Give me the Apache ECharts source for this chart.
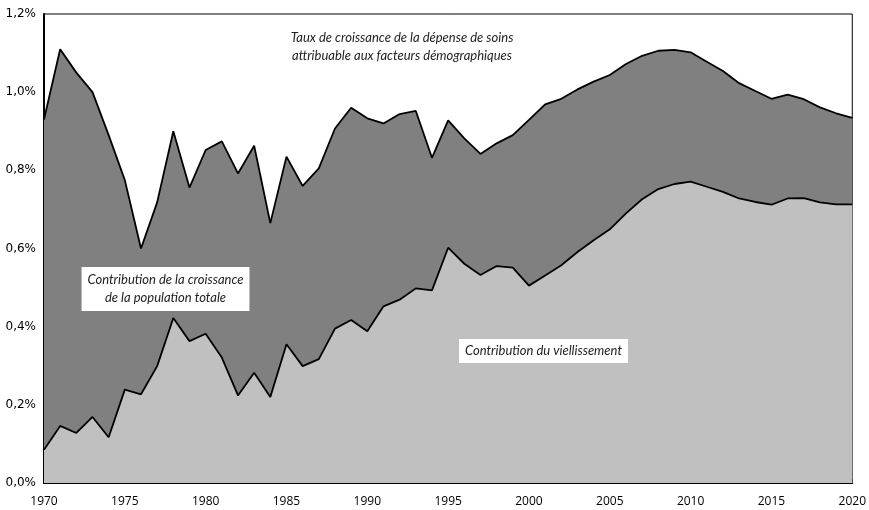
<!DOCTYPE html>
<html lang="fr">
<head>
    <meta charset="UTF-8">
    <title>Facteurs démographiques</title>
    <script src="https://cdn.jsdelivr.net/npm/echarts@6/dist/echarts.min.js"></script>
    <style>
        html, body { margin: 0; padding: 0; background: #fff; }
    </style>
</head>
<body>
<div id="main" style="width: 869px;height: 510px;"></div>
<script type="text/javascript">
    // années 1970 -> 2020
    var years = [];
    for (var y = 1970; y <= 2020; y++) years.push(String(y));

    // taux total attribuable aux facteurs démographiques (%)
    var totalDemo = [
        0.93, 1.11, 1.05, 1.00, 0.89, 0.775, 0.60, 0.718, 0.90, 0.756,
        0.852, 0.874, 0.792, 0.863, 0.665, 0.835, 0.760, 0.805, 0.907, 0.960,
        0.933, 0.920, 0.944, 0.952, 0.832, 0.928, 0.882, 0.842, 0.869, 0.890,
        0.929, 0.969, 0.983, 1.007, 1.027, 1.044, 1.072, 1.093, 1.106, 1.108,
        1.102, 1.078, 1.054, 1.023, 1.003, 0.983, 0.994, 0.982, 0.961, 0.946,
        0.934
    ];

    // contribution du vieillissement (%)
    var vieillissement = [
        0.085, 0.146, 0.128, 0.169, 0.117, 0.239, 0.227, 0.299, 0.422, 0.363,
        0.382, 0.321, 0.224, 0.282, 0.220, 0.355, 0.299, 0.317, 0.395, 0.417,
        0.388, 0.452, 0.469, 0.498, 0.493, 0.602, 0.561, 0.532, 0.555, 0.551,
        0.505, 0.531, 0.557, 0.591, 0.621, 0.649, 0.690, 0.726, 0.752, 0.765,
        0.771, 0.758, 0.745, 0.728, 0.719, 0.712, 0.728, 0.729, 0.718, 0.713,
        0.713
    ];

    var labelFont = 'italic 13px Lato, "Open Sans", sans-serif';

    var myChart = echarts.init(document.getElementById('main'));
    var option = {
        backgroundColor: '#fff',
        animation: false,
        grid: {
            left: 44,
            right: 16,
            top: 14,
            bottom: 27,
            show: true,
            borderColor: '#000',
            borderWidth: 1
        },
        xAxis: {
            type: 'category',
            data: years,
            boundaryGap: false,
            axisLine: { lineStyle: { color: '#000', width: 2 } },
            axisTick: {
                inside: true,
                length: 4,
                interval: 0,
                lineStyle: { color: '#000', width: 1 }
            },
            axisLabel: {
                interval: 4,
                color: '#000',
                fontSize: 12,
                margin: 13,
                fontFamily: '"Open Sans", sans-serif'
            },
            splitLine: { show: false }
        },
        yAxis: {
            type: 'value',
            min: 0,
            max: 1.2,
            interval: 0.2,
            axisLine: { show: true, lineStyle: { color: '#000', width: 2 } },
            axisTick: { show: false },
            axisLabel: {
                color: '#000',
                fontSize: 12,
                margin: 8,
                fontFamily: '"DejaVu Sans", sans-serif',
                formatter: function (v) {
                    return v.toFixed(1).replace('.', ',') + '%';
                }
            },
            splitLine: { show: false }
        },
        series: [{
            name: 'Total',
            type: 'line',
            data: totalDemo,
            symbol: 'none',
            lineStyle: { color: '#000', width: 1.8 },
            areaStyle: { color: '#808080', opacity: 1 },
            z: 2
        }, {
            name: 'Vieillissement',
            type: 'line',
            data: vieillissement,
            symbol: 'none',
            lineStyle: { color: '#000', width: 1.8 },
            areaStyle: { color: '#c0c0c0', opacity: 1 },
            z: 3
        }],
        graphic: [{
            type: 'text',
            x: 402,
            y: 29,
            z: 100,
            style: {
                text: 'Taux de croissance de la dépense de soins\nattribuable aux facteurs démographiques',
                align: 'center',
                verticalAlign: 'top',
                font: labelFont,
                fill: '#222',
                lineHeight: 18
            }
        }, {
            type: 'text',
            x: 165.5,
            y: 267,
            z: 100,
            style: {
                text: 'Contribution de la croissance\nde la population totale',
                align: 'center',
                verticalAlign: 'top',
                font: labelFont,
                fill: '#222',
                lineHeight: 18,
                backgroundColor: '#fff',
                padding: [4, 6, 4, 6]
            }
        }, {
            type: 'text',
            x: 543.5,
            y: 339,
            z: 100,
            style: {
                text: 'Contribution du viellissement',
                align: 'center',
                verticalAlign: 'top',
                font: labelFont,
                fill: '#222',
                lineHeight: 16,
                backgroundColor: '#fff',
                padding: [4, 6, 4, 6]
            }
        }]
    };
    myChart.setOption(option);
</script>
</body>
</html>
